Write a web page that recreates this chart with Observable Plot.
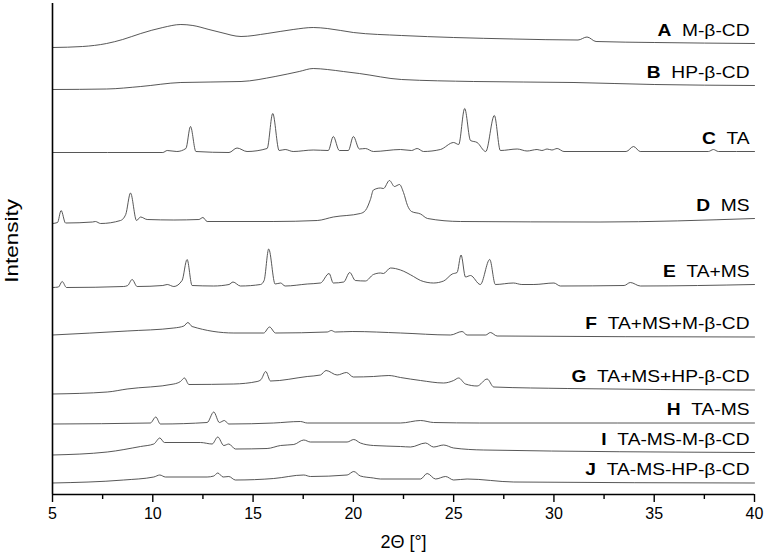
<!DOCTYPE html>
<html><head><meta charset="utf-8">
<script src="https://cdn.jsdelivr.net/npm/d3@7"></script>
<script src="https://cdn.jsdelivr.net/npm/@observablehq/plot@0.6"></script>
<style>body{margin:0;background:#fff;}</style>
</head><body><div id="chart"></div>
<script>
const letters = ["A","B","C","D","E","F","G","H","I","J"];
const names = ["M-β-CD","HP-β-CD","TA","MS","TA+MS","TA+MS+M-β-CD","TA+MS+HP-β-CD","TA-MS","TA-MS-M-β-CD","TA-MS-HP-β-CD"];
const majorTicks = [5,10,15,20,25,30,35,40];
const minorTicks = [7.5,12.5,17.5,22.5,27.5,32.5,37.5];
const xLabel = "2Θ [°]";
const yLabel = "Intensity";

// [2θ, stacked intensity (a.u.)]
const A = [[5,447],[6.5,448],[7.7,451],[8.5,455],[9.4,461],[10.5,467],[11.4,470],[12,469],[12.8,465],[13.4,462],[14.4,458],[15.7,461],[17,465],[18,467],[18.7,466],[20,462],[22.4,459],[25,457],[28,455.5],[31.2,454.5],[31.65,457.5],[32.1,453],[35,452],[40,451]];
const B = [[5,405],[7.7,405.5],[9.4,408],[11.4,412],[14.4,413],[16.1,418],[17.3,423],[18,426],[18.7,425],[19.5,423],[20.3,421],[22.4,415],[26,413],[31,412],[35,410],[40,409]];
const C = [[5,342],[10.5,342],[10.72,344],[11.2,343],[11.65,346],[11.88,368],[12.15,343],[13.8,342],[14.2,346.5],[14.7,343],[15.7,346],[15.98,381],[16.3,344],[16.6,345],[17,343],[18,344.5],[18.75,344],[19,358],[19.3,344],[19.75,344],[20,358],[20.3,345.5],[20.6,346],[21,343],[22.35,345],[22.9,344],[23.18,346],[23.5,343],[24.34,345],[25,352],[25.25,350],[25.55,386],[25.84,354],[26.17,352],[26.6,343],[27.03,379],[27.33,344],[28.17,345.5],[28.66,343.5],[29.16,345],[29.4,344],[29.66,345.5],[29.9,344.5],[30.16,346],[30.5,343],[33.6,343],[33.97,348],[34.3,343],[37.7,343],[37.95,345],[38.2,343],[40,343]];
const D = [[5,271],[5.25,272],[5.43,284],[5.65,271.5],[7,272.5],[7.14,273],[7.4,271],[8.39,274],[8.65,280],[8.89,301.5],[9.19,274],[9.39,277.5],[9.72,275],[11.05,274.5],[12.3,275],[12.5,277],[12.71,273],[16,273],[18.2,274],[19,277.5],[20.35,281],[20.6,284],[20.85,295],[21,304.5],[21.35,306.5],[21.5,306],[21.8,314],[22.05,308],[22.3,310],[22.5,302],[22.7,289],[22.9,283],[23.35,280.5],[23.7,276],[25.34,273],[32.3,272.5],[40,276]];
const E = [[5,207],[5.3,207.5],[5.48,213],[5.7,207],[8.55,208],[8.75,209],[8.97,215],[9.22,208],[10.5,209],[10.72,210],[11.05,208],[11.46,214],[11.71,235],[11.96,209],[13.03,208.5],[13.8,210],[14,212.5],[14.37,208.5],[15.37,210],[15.55,214],[15.78,245.5],[16.1,210.5],[16.37,211.5],[16.6,208.5],[17.7,210.5],[18.36,211.5],[18.79,221],[19,211.5],[19.52,212.5],[19.82,222],[20.1,214],[20.6,213.5],[21,220],[21.35,221.5],[21.5,221],[21.85,226.5],[22.35,224.5],[23,218],[23.35,214],[24,211.5],[24.5,213.5],[24.93,220.5],[25.17,222],[25.37,239.5],[25.59,217.5],[25.84,219],[26.33,210],[26.8,235],[27.08,210],[27.98,211.5],[28.4,210],[29,210],[30,211.5],[30.32,208.5],[33.5,209],[33.81,212],[34.31,208.5],[40,210]];
const F = [[5,159.5],[8.72,163.5],[11.05,166.5],[11.55,168.5],[11.75,172],[11.96,168],[14.04,161.5],[15.53,161.5],[15.82,167.5],[16.12,161.5],[18.7,162.5],[18.9,164],[19.1,162.5],[19.94,163],[22.35,161.5],[24.84,159.5],[25.42,163],[25.67,159.5],[26.6,159.5],[26.83,162],[27.17,158.5],[40,157.5]];
const G = [[5,100.5],[7.73,102.5],[8.72,105.5],[11.05,110.5],[11.38,113],[11.58,116.5],[11.8,110],[14.04,110.5],[15.2,113],[15.4,115],[15.63,123],[15.87,113.5],[17.7,118],[18.36,119.5],[18.64,124],[19.19,119.5],[19.66,122],[20,117.5],[21,118],[21.77,119],[22.35,117],[23.35,114],[24.5,111.5],[25,114],[25.25,116.5],[25.59,110.5],[26.17,108.5],[26.67,115.5],[27,107.5],[30.66,106],[40,104.5]];
const H = [[5,70.5],[9.88,71.5],[10.15,77.5],[10.38,70.5],[12.71,72],[13.04,82.5],[13.32,72],[13.57,74],[13.79,70.5],[16.03,71.5],[17.36,73],[17.7,71.5],[22.35,71.5],[23.35,74],[24,72],[26.3,71.5],[40,71.5]];
const I = [[5,39.5],[7.73,42.5],[9.39,48],[10.05,50.5],[10.35,56.5],[10.58,52],[12.38,52],[12.96,50.5],[13.24,57.5],[13.54,49],[13.79,50.5],[14.12,45.5],[15.7,46],[16.37,49],[17.03,50],[17.53,54.5],[17.86,52.5],[19.69,52.5],[20.02,55],[20.35,51.5],[21,49],[22.35,48],[22.85,47.5],[23.6,51.5],[24,47.5],[24.5,49.5],[25,46.5],[26.5,44.5],[40,42]];
const J = [[5,11.5],[8.55,14.5],[10.05,17.5],[10.35,19.5],[10.63,17.5],[12.71,17.5],[13.04,18.5],[13.24,21.5],[13.51,17.5],[13.79,18],[14.12,14.5],[16.03,16],[17.53,19.5],[17.86,18],[19.69,19.5],[20.02,23],[20.35,18.5],[21,16.5],[21.35,15.5],[23.35,15.5],[23.68,21],[24.1,15.5],[24.6,18],[25,14.5],[25.67,15.5],[28,12.5],[40,11.5]];

const patterns = [A,B,C,D,E,F,G,H,I,J];
const rows = patterns.flatMap((p,i) => p.map(([t,v]) => ({t, v, s: letters[i]})));
const ends = patterns.map((p,i) => ({t: p[p.length-1][0], v: p[p.length-1][1], letter: letters[i], name: names[i]}));

const font = "'Liberation Sans', Arial, sans-serif";
const chart = Plot.plot({
  width: 764, height: 558,
  marginLeft: 52, marginRight: 10, marginTop: 3, marginBottom: 64,
  x: {domain: [5, 40]},
  y: {domain: [0, 491], axis: null},
  style: {fontFamily: font, background: "#fff", color: "black"},
  marks: [
    Plot.lineY(rows, {x: "t", y: "v", z: "s", stroke: "#444", strokeWidth: 0.9, curve: "monotone-x"}),
    Plot.ruleX([5], {stroke: "black", strokeWidth: 1.6}),
    Plot.ruleY([0], {stroke: "black", strokeWidth: 1.6}),
    Plot.axisX({ticks: majorTicks, tickSize: 8, tickPadding: 5, fontSize: 16, label: null, stroke: "black", strokeWidth: 1.4, tickFormat: d => String(d)}),
    Plot.axisX({ticks: minorTicks, tickSize: 5, label: null, stroke: "black", strokeWidth: 1.4, tickFormat: () => ""}),
    Plot.text([xLabel], {frameAnchor: "bottom", dy: 53, fontSize: 18, fill: "black"}),
    Plot.text([yLabel], {frameAnchor: "left", rotate: -90, textAnchor: "middle", dx: -40, dy: -8, fontSize: 18, fill: "black"}),
    Plot.text(ends, {x: "t", y: "v", text: d => d.letter + "  " + d.name, textAnchor: "end", dx: -5, dy: -13, fontSize: 16, fill: "black"})
  ]
});

function stretch(el, s) {
  const t = el.getAttribute("transform");
  if (t) el.setAttribute("transform", t + ` scale(${s},1)`);
  else {
    const x = +el.getAttribute("x") || 0, y = +el.getAttribute("y") || 0;
    el.removeAttribute("x"); el.removeAttribute("y");
    el.setAttribute("transform", `translate(${x},${y}) scale(${s},1)`);
  }
}
d3.select(chart).selectAll("text").each(function() {
  const m = this.textContent.match(/^([A-J])  (.+)$/);
  if (m) {
    const el = d3.select(this);
    el.text(null);
    el.append("tspan").attr("font-weight", "bold").text(m[1]);
    el.append("tspan").text("\u00a0\u00a0" + m[2]);
    stretch(this, 1.2);
  } else if (this.textContent === yLabel) {
    stretch(this, 1.25);
  }
});
document.getElementById("chart").appendChild(chart);
</script>
</body></html>
